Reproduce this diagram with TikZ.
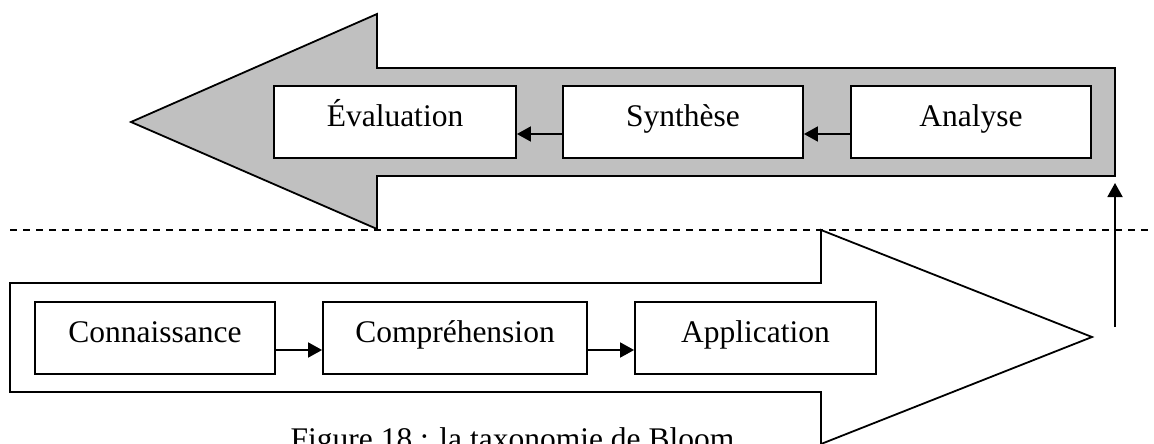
\documentclass[tikz,border=0pt]{standalone}
\usepackage{fontspec}
\setmainfont{Liberation Serif}
\usetikzlibrary{arrows.meta}
\definecolor{bandgray}{HTML}{C0C0C0}
\begin{document}
\begin{tikzpicture}[x=1pt,y=-1pt,
  font=\fontsize{31.5}{38}\selectfont,
  level/.style={draw,line width=1.8pt,fill=white,inner sep=0pt,
    minimum height=72pt,text height=21pt,text depth=13pt},
  band/.style={draw,line width=1.8pt,line join=miter},
  link/.style={line width=1.8pt,-{Triangle[length=14pt,width=15pt]}},
  divider/.style={line width=1.2pt,dash pattern=on 7pt off 6pt}]
\useasboundingbox (0,0) rectangle (1154,444);
\clip (0,0) rectangle (1154,444);

% dividing line between the two groups
\coordinate (dl) at (10,230);
\coordinate (dr) at (1154,230);
\draw[divider] (dl) -- (dr);

% upper band: higher-order levels, pointing left
\draw[band,fill=bandgray] (1115,68) -- (377,68) -- (377,14) -- (131,122)
  -- (377,229) -- (377,176) -- (1115,176) -- cycle;

% lower band: basic levels, pointing right
\draw[band] (10,283) -- (821,283) -- (821,230) -- (1092,337)
  -- (821,444) -- (821,392) -- (10,392) -- cycle;

% level boxes
\node[level,minimum width=242pt] (eval) at (395,122) {Évaluation};
\node[level,minimum width=240pt] (synth) at (683,122) {Synthèse};
\node[level,minimum width=240pt] (anal) at (971,122) {Analyse};

\node[level,minimum width=240pt] (conn) at (155,338) {Connaissance};
\node[level,minimum width=264pt] (comp) at (455,338) {Compréhension};
\node[level,minimum width=241pt] (appl) at (755.5,338) {Application};

% links between levels
\draw[link] ([yshift=-12pt]anal.west) -- ([yshift=-12pt]synth.east);
\draw[link] ([yshift=-12pt]synth.west) -- ([yshift=-12pt]eval.east);
\draw[link] ([yshift=-12pt]conn.east) -- ([yshift=-12pt]comp.west);
\draw[link] ([yshift=-12pt]comp.east) -- ([yshift=-12pt]appl.west);

% step up from the lower group to the upper one
\coordinate (up0) at (1115,327);
\coordinate (up1) at (1115,183);
\draw[link] (up0) -- (up1);

% caption
\node[anchor=base,inner sep=0pt] (cap) at (512.5,449) {Figure 18 : la taxonomie de Bloom};
\end{tikzpicture}
\end{document}
